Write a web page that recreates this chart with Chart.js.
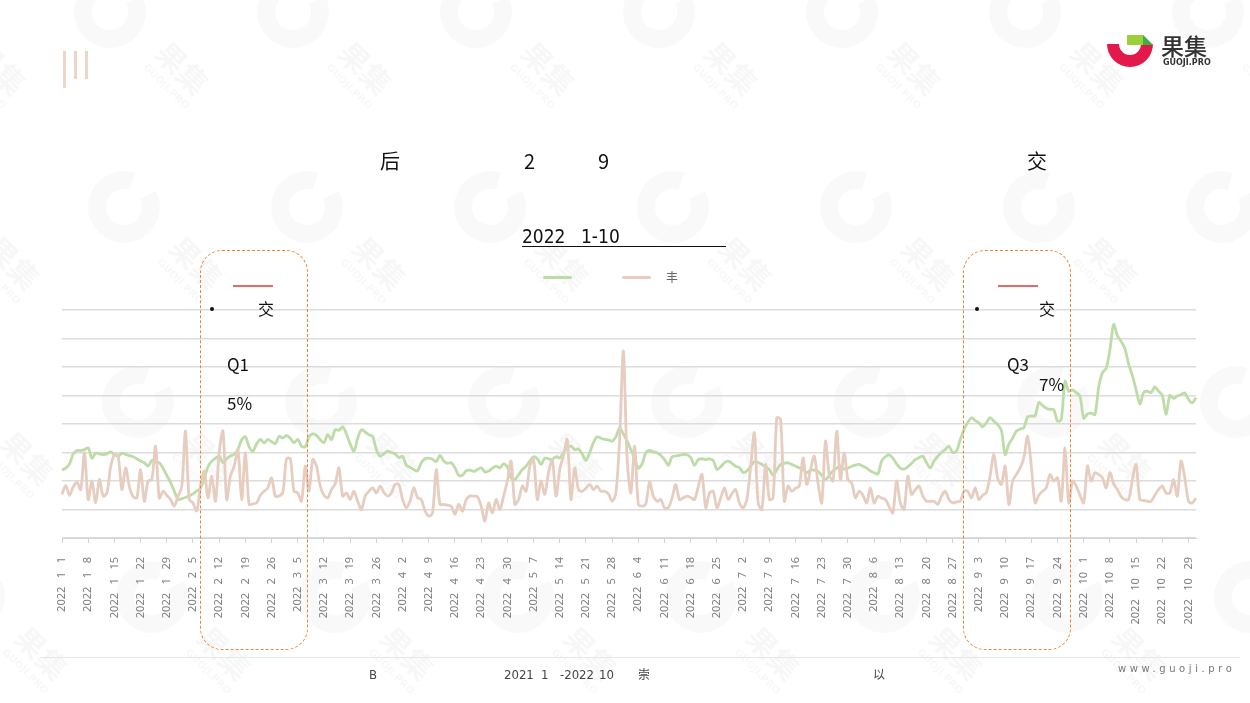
<!DOCTYPE html>
<html>
<head>
<meta charset="utf-8">
<script src="https://cdn.jsdelivr.net/npm/chart.js@4"></script>
<style>
html,body{margin:0;padding:0;background:#fff;}
#wrap{position:relative;width:1250px;height:703px;overflow:hidden;font-family:"Noto Sans CJK SC","Noto Sans",sans-serif;color:#111;}
canvas{position:absolute;left:0;top:0;}
.t{position:absolute;white-space:nowrap;line-height:1;}
.box{position:absolute;border:1.7px dashed #ee8431;border-radius:22px;box-sizing:border-box;}
.bar{position:absolute;background:#ecd6ca;width:3px;}
.dot{position:absolute;width:4px;height:4px;border-radius:2px;background:#111;}
.cond{font-family:"Liberation Sans Narrow","DejaVu Sans Condensed","Noto Sans",sans-serif;}
</style>
</head>
<body>
<div id="wrap">
  <canvas id="wm" width="1250" height="703"></canvas>
  <canvas id="c" width="1250" height="703"></canvas>

  <div class="bar" style="left:63px;top:51px;height:37px;"></div>
  <div class="bar" style="left:74px;top:51px;height:28px;"></div>
  <div class="bar" style="left:85px;top:51px;height:28px;"></div>

  <svg style="position:absolute;left:0;top:0" width="1250" height="703">
    <path d="M1107,44 A23,23 0 0 0 1153,44 L1141,44 A11,11 0 0 1 1119,44 Z" fill="#e3194b"/>
    <polygon points="1127,35 1143,35 1153,45 1127,45" fill="#9ccf3a"/>
    <polygon points="1143,35 1153,45 1143,45" fill="#3fae4a"/>
  </svg>
  <div class="t" style="left:1161px;top:34px;font-size:23px;font-weight:500;color:#333;">果集</div>
  <div class="t" style="left:1163px;top:59px;font-size:8px;font-weight:700;color:#333;font-family:'DejaVu Sans',sans-serif;">GUOJI.PRO</div>

  <div class="t" style="left:380px;top:151px;font-size:20px;">后</div>
  <div class="t" style="left:524px;top:151px;font-size:20px;">2</div>
  <div class="t" style="left:598px;top:151px;font-size:20px;">9</div>
  <div class="t" style="left:1027px;top:151px;font-size:20px;">交</div>

  <div class="t cond" style="left:522px;top:227px;font-size:19px;">2022</div>
  <div class="t cond" style="left:581px;top:227px;font-size:19px;">1-10</div>
  <div style="position:absolute;left:522px;top:246px;width:204px;height:1px;background:#111;"></div>

  <div style="position:absolute;left:543px;top:276px;width:29px;height:3px;border-radius:2px;background:#bcdca6;"></div>
  <div style="position:absolute;left:622px;top:276px;width:29px;height:3px;border-radius:2px;background:#e7cdbf;"></div>
  <div class="t" style="left:666px;top:271px;font-size:12px;color:#666;">丰</div>

  <div class="box" style="left:200px;top:250px;width:108px;height:400px;"></div>
  <div style="position:absolute;left:233px;top:285px;width:40px;height:2px;background:#e36a6a;"></div>
  <div class="dot" style="left:210px;top:307px;"></div>
  <div class="t" style="left:258px;top:300px;font-size:16px;">交</div>
  <div class="t" style="left:227px;top:355px;font-size:17px;">Q1</div>
  <div class="t" style="left:227px;top:394px;font-size:17px;">5%</div>

  <div class="box" style="left:963px;top:250px;width:108px;height:400px;"></div>
  <div style="position:absolute;left:998px;top:285px;width:40px;height:2px;background:#e36a6a;"></div>
  <div class="dot" style="left:975px;top:307px;"></div>
  <div class="t" style="left:1039px;top:300px;font-size:16px;">交</div>
  <div class="t" style="left:1007px;top:355px;font-size:17px;">Q3</div>
  <div class="t" style="left:1039px;top:375px;font-size:17px;">7%</div>

  <div style="position:absolute;left:40px;top:657px;width:1200px;height:1px;background:#e6e6e6;"></div>
  <div class="t cond" style="left:369px;top:668px;font-size:13px;color:#444;">B</div>
  <div class="t cond" style="left:504px;top:668px;font-size:13px;color:#444;">2021</div>
  <div class="t cond" style="left:541px;top:668px;font-size:13px;color:#444;">1</div>
  <div class="t cond" style="left:560px;top:668px;font-size:13px;color:#444;">-2022</div>
  <div class="t cond" style="left:599px;top:668px;font-size:13px;color:#444;">10</div>
  <div class="t" style="left:638px;top:668px;font-size:12px;color:#444;">崇</div>
  <div class="t" style="left:873px;top:668px;font-size:12px;color:#444;">以</div>
  <div class="t" style="left:1118px;top:664px;font-size:10px;letter-spacing:3.6px;color:#777;font-family:'DejaVu Sans',sans-serif;">www.guoji.pro</div>
</div>

<script>
const tickLabels = ['2022   1   1','2022   1   8','2022   1   15','2022   1   22','2022   1   29',
  '2022   2   5','2022   2   12','2022   2   19','2022   2   26',
  '2022   3   5','2022   3   12','2022   3   19','2022   3   26',
  '2022   4   2','2022   4   9','2022   4   16','2022   4   23','2022   4   30',
  '2022   5   7','2022   5   14','2022   5   21','2022   5   28',
  '2022   6   4','2022   6   11','2022   6   18','2022   6   25',
  '2022   7   2','2022   7   9','2022   7   16','2022   7   23','2022   7   30',
  '2022   8   6','2022   8   13','2022   8   20','2022   8   27',
  '2022   9   3','2022   9   10','2022   9   17','2022   9   24',
  '2022   10   1','2022   10   8','2022   10   15','2022   10   22','2022   10   29'];

const greenValues = [
  2.38,2.45,2.6,2.95,3.07,3.07,3.1,3.16,2.8,2.98,
  2.95,2.93,2.95,3.02,2.92,2.87,2.98,2.93,2.89,2.85,
  2.78,2.7,2.64,2.52,2.72,2.66,2.64,2.45,2.2,1.95,
  1.64,1.35,1.38,1.42,1.48,1.55,1.65,1.75,2.1,2.5,
  2.7,2.8,2.87,2.64,2.78,2.88,2.93,3.1,3.45,3.55,
  3.2,3.05,3.3,3.46,3.34,3.46,3.38,3.31,3.57,3.51,
  3.6,3.5,3.34,3.46,3.22,3.2,3.55,3.65,3.6,3.45,
  3.35,3.63,3.45,3.8,3.78,3.9,3.65,3.3,3.05,3.5,
  3.8,3.72,3.62,3.57,3.1,2.87,2.95,3.05,3.0,2.95,
  2.82,2.87,2.55,2.48,2.4,2.35,2.64,2.78,2.8,2.76,
  2.68,2.9,2.7,2.62,2.64,2.46,2.2,2.2,2.36,2.38,
  2.34,2.4,2.46,2.32,2.35,2.45,2.52,2.46,2.6,2.5,
  2.1,2.05,2.22,2.4,2.52,2.7,2.85,2.78,2.58,2.8,
  2.78,2.76,2.85,2.81,3.0,3.16,3.22,3.1,3.12,2.95,
  2.72,3.0,3.35,3.55,3.5,3.46,3.44,3.4,3.55,3.86,
  3.65,3.4,3.1,2.8,2.45,2.6,3.0,3.07,3.02,2.99,
  2.9,2.75,2.55,2.85,2.88,2.9,2.93,2.92,2.82,2.55,
  2.75,2.78,2.75,2.78,2.72,2.4,2.5,2.64,2.7,2.62,
  2.52,2.47,2.3,2.35,2.52,2.68,2.65,2.58,2.5,2.4,
  2.2,2.4,2.58,2.62,2.64,2.58,2.52,2.46,2.4,2.29,
  2.38,2.38,2.34,2.2,2.05,2.2,2.35,2.45,2.52,2.42,
  2.45,2.52,2.56,2.58,2.52,2.45,2.35,2.29,2.25,2.7,
  2.85,2.92,2.8,2.6,2.45,2.42,2.5,2.62,2.75,2.82,
  2.87,2.65,2.46,2.7,2.87,3.0,3.1,3.22,3.0,3.05,
  3.45,3.8,4.05,4.22,4.12,4.04,3.9,4.05,4.22,4.1,
  3.98,3.78,2.93,3.3,3.5,3.75,3.82,3.87,4.25,4.28,
  4.28,4.75,4.65,4.55,4.51,4.5,4.1,4.16,5.5,5.15,
  5.2,5.1,4.98,4.2,4.35,4.38,4.33,5.3,5.8,5.95,
  6.6,7.49,7.1,6.9,6.65,6.1,5.7,5.2,4.7,5.1,
  5.15,5.1,5.3,5.15,5.0,4.33,5.0,4.9,4.98,5.03,
  5.09,4.86,4.74,4.92];

const pinkValues = [
  1.53,1.85,1.5,1.8,1.95,1.7,2.99,1.35,2.0,1.23,
  2.05,1.47,1.58,2.5,2.93,2.87,1.7,2.46,1.8,1.45,
  1.41,2.4,1.29,2.0,2.05,3.22,1.4,1.64,1.5,1.35,
  1.12,1.47,1.8,3.75,1.35,1.23,0.95,1.82,2.34,1.41,
  2.17,1.29,3.0,3.75,1.35,2.17,2.52,3.1,1.35,2.99,
  1.18,1.2,1.23,1.5,1.64,1.76,2.11,1.47,1.47,1.6,
  2.78,2.78,1.64,1.58,1.29,2.52,1.64,2.75,2.52,1.82,
  1.5,1.41,1.7,1.9,2.46,1.47,1.58,1.35,1.64,1.29,
  1.0,1.47,1.64,1.76,1.58,1.82,1.6,1.47,1.58,1.88,
  1.88,1.35,1.06,1.3,1.76,1.41,1.35,0.95,0.77,0.88,
  2.4,1.18,1.18,1.15,1.12,0.83,1.18,0.94,1.35,1.47,
  1.47,1.45,1.12,0.59,1.23,0.88,1.35,1.0,1.47,2.0,
  2.7,1.18,1.35,1.82,1.64,2.52,2.75,1.35,2.0,1.53,
  2.3,2.75,1.47,2.4,2.9,3.46,1.35,2.46,1.7,1.64,
  1.75,1.88,1.7,1.82,1.64,1.64,1.55,1.29,1.58,3.5,
  6.56,2.75,1.58,3.22,1.18,1.12,1.2,1.96,1.47,1.29,
  1.35,1.06,1.06,1.4,1.88,1.35,1.41,1.47,1.42,1.35,
  1.8,2.23,1.06,1.58,1.64,1.06,1.4,1.76,1.35,1.55,
  1.7,1.23,1.06,1.35,2.5,3.69,1.23,1.0,2.58,1.35,
  1.41,4.22,4.16,1.29,1.82,1.64,1.75,1.82,2.81,1.88,
  2.4,2.87,1.93,1.23,3.4,2.23,2.0,3.75,2.05,2.99,
  2.05,1.93,1.41,1.64,1.5,1.23,1.76,1.23,1.47,1.4,
  1.35,1.1,0.88,2.0,1.23,1.0,2.17,1.53,1.7,1.82,
  1.47,1.29,1.29,1.29,1.18,1.47,1.64,1.35,1.23,1.27,
  1.29,1.64,1.64,1.41,1.76,1.35,1.5,1.6,2.2,2.93,
  2.11,1.88,2.52,1.18,2.0,2.23,2.46,2.81,3.57,2.52,
  1.23,1.5,1.64,1.76,2.23,2.0,2.11,1.29,3.16,1.23,
  2.0,1.82,1.5,1.23,2.52,2.0,2.29,2.23,2.11,1.76,
  2.29,1.9,1.7,1.45,1.35,1.35,2.05,2.58,1.35,1.32,
  1.29,1.29,1.5,1.7,1.82,1.58,1.58,2.05,1.47,2.7,
  2.11,1.29,1.23,1.4];

// daily categories, Jan 1 – Oct 31 2022
const days = [];
for (let i = 0; i < greenValues.length; i++) {
  const d = new Date(2022, 0, 1 + i);
  days.push(d.getFullYear() + '-' + (d.getMonth() + 1) + '-' + d.getDate());
}

// faint watermark decoration
(function () {
  const w = document.getElementById('wm').getContext('2d');
  w.lineCap = 'butt';
  const rows = [12, 207, 402, 597];
  rows.forEach((y, r) => {
    for (let k = -1; k < 8; k++) {
      const x = 110 + 183 * k + r * 14;
      w.strokeStyle = 'rgba(0,0,0,0.022)';
      w.lineWidth = 18;
      w.beginPath();
      w.arc(x, y, 27, -0.15 * Math.PI, 1.6 * Math.PI);
      w.stroke();
      w.save();
      w.translate(x + 50, y + 50);
      w.rotate(Math.PI / 4);
      w.fillStyle = 'rgba(0,0,0,0.03)';
      w.font = 'bold 30px "Noto Sans CJK SC"';
      w.fillText('果集', -10, 0);
      w.font = 'bold 10px "DejaVu Sans"';
      w.fillText('GUOJI.PRO', -8, 16);
      w.restore();
    }
  });
})();

new Chart(document.getElementById('c'), {
  type: 'line',
  data: {
    labels: days,
    datasets: [
      { label: 'green', data: greenValues, borderColor: '#bddca7', borderWidth: 2.8,
        pointRadius: 0, tension: 0.3, fill: false, order: 2 },
      { label: 'pink', data: pinkValues, borderColor: '#e7cdbf', borderWidth: 2.8,
        pointRadius: 0, tension: 0.3, fill: false, order: 1 }
    ]
  },
  options: {
    responsive: false,
    animation: false,
    devicePixelRatio: 1,
    layout: { padding: { left: 62, right: 54, top: 310, bottom: 0 } },
    plugins: { legend: { display: false }, tooltip: { enabled: false } },
    scales: {
      x: {
        type: 'category',
        offset: false,
        grid: {
          display: true, drawOnChartArea: false, drawTicks: true, tickLength: 5,
          color: c => (c.index % 7 === 0 ? '#d4d4d4' : 'rgba(0,0,0,0)')
        },
        border: { display: true, color: '#d4d4d4', width: 1 },
        ticks: {
          autoSkip: false, minRotation: 90, maxRotation: 90, padding: 14,
          color: '#808080', font: { family: 'Noto Sans', size: 11 },
          callback: (v, i) => (i % 7 === 0 ? tickLabels[i / 7] : '')
        },
        afterFit: s => { s.height = 165; }
      },
      y: {
        min: 0, max: 8,
        ticks: { display: false, stepSize: 1 },
        grid: { color: '#dcdcdc', lineWidth: 1.5, drawTicks: false },
        border: { display: false },
        afterFit: s => { s.width = 0; }
      }
    }
  }
});
</script>
</body>
</html>
